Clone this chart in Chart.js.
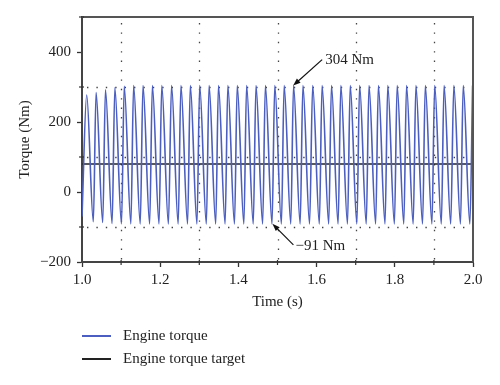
<!DOCTYPE html>
<html>
<head>
<meta charset="utf-8">
<script src="https://cdn.jsdelivr.net/npm/chart.js@4.4.0/dist/chart.umd.min.js"></script>
<style>
    html, body { margin: 0; padding: 0; background: #fff; }
    #wrap { position: relative; width: 500px; height: 385px; }
    #legend { position: absolute; left: 82px; top: 324px; font: 15px "Liberation Serif", serif; color: #222; }
    .row { display: flex; align-items: center; height: 23px; }
    .swatch { width: 29px; height: 2px; margin-right: 12px; }
</style>
</head>
<body>
<div id="wrap">
    <canvas id="chart" width="500" height="385"></canvas>
    <div id="legend"></div>
</div>
<script>
// Peaks and troughs of the engine torque trace (s, Nm)
const startTime = 1.000;
const startTorque = -70;

const peakTimes = [1.012, 1.036, 1.060, 1.084, 1.108, 1.132, 1.156, 1.180, 1.204, 1.229,
    1.253, 1.277, 1.301, 1.325, 1.349, 1.373, 1.397, 1.421, 1.445, 1.469,
    1.493, 1.517, 1.541, 1.565, 1.590, 1.614, 1.638, 1.662, 1.686, 1.710,
    1.734, 1.758, 1.782, 1.806, 1.830, 1.854, 1.878, 1.902, 1.926, 1.951,
    1.975, 1.999];
const peakTorques = [277, 284, 292, 298, 302, 304, 304, 304, 304, 304,
    304, 304, 304, 304, 304, 304, 304, 304, 304, 304,
    304, 304, 304, 304, 304, 304, 304, 304, 304, 304,
    304, 304, 304, 304, 304, 304, 304, 304, 304, 304,
    304, 304];

const troughTimes = [1.029, 1.053, 1.077, 1.101, 1.125, 1.149, 1.173, 1.197, 1.221, 1.246,
    1.270, 1.294, 1.318, 1.342, 1.366, 1.390, 1.414, 1.438, 1.462, 1.486,
    1.510, 1.534, 1.558, 1.582, 1.607, 1.631, 1.655, 1.679, 1.703, 1.727,
    1.751, 1.775, 1.799, 1.823, 1.847, 1.871, 1.895, 1.919, 1.943, 1.968,
    1.992];
const troughTorques = [-85, -87, -90, -91, -91, -91, -91, -91, -91, -91,
    -91, -91, -91, -91, -91, -91, -91, -91, -91, -91,
    -91, -91, -91, -91, -91, -91, -91, -91, -91, -91,
    -91, -91, -91, -91, -91, -91, -91, -91, -91, -91,
    -91];

// Engine torque target
const targetTimes = [1.0, 2.0];
const targetTorques = [80, 80];

// Axis ticks and dotted reference lines
const xTicks = [1.0, 1.2, 1.4, 1.6, 1.8, 2.0];
const yTicks = [-200, 0, 200, 400];
const refTimes = [1.1, 1.3, 1.5, 1.7, 1.9];
const refTorques = [300, 100, -100];

// Build the trace: start, then peak/trough alternating
const torquePoints = [{ x: startTime, y: startTorque }];
peakTimes.forEach(function (t, i) {
    torquePoints.push({ x: t, y: peakTorques[i] });
    if (i < troughTimes.length) {
        torquePoints.push({ x: troughTimes[i], y: troughTorques[i] });
    }
});
const targetPoints = targetTimes.map(function (t, i) {
    return { x: t, y: targetTorques[i] };
});

const FONT = '"Liberation Serif", "Times New Roman", serif';
const INK = '#222';

// Dotted reference lines, box frame, minor ticks and arrow notes
const extrasPlugin = {
    id: 'extras',
    beforeDatasetsDraw: function (chart) {
        const ctx = chart.ctx;
        const a = chart.chartArea;
        const xs = chart.scales.x, ys = chart.scales.y;
        ctx.save();
        ctx.strokeStyle = '#444';
        ctx.lineWidth = 1.3;
        ctx.setLineDash([1.4, 8]);
        refTimes.forEach(function (t) {
            const px = Math.round(xs.getPixelForValue(t)) + 0.5;
            ctx.beginPath();
            ctx.moveTo(px, a.top + 6);
            ctx.lineTo(px, a.bottom);
            ctx.stroke();
        });
        refTorques.forEach(function (v) {
            const py = Math.round(ys.getPixelForValue(v)) + 0.5;
            ctx.beginPath();
            ctx.moveTo(a.left + 5, py);
            ctx.lineTo(a.right, py);
            ctx.stroke();
        });
        ctx.restore();
    },
    afterDatasetsDraw: function (chart) {
        const ctx = chart.ctx;
        const a = chart.chartArea;
        const xs = chart.scales.x, ys = chart.scales.y;
        ctx.save();
        // top and right frame
        ctx.strokeStyle = '#555';
        ctx.lineWidth = 2;
        ctx.beginPath();
        ctx.moveTo(a.left, a.top);
        ctx.lineTo(a.right, a.top);
        ctx.lineTo(a.right, a.bottom);
        ctx.stroke();

        // minor ticks halfway between major ones
        ctx.lineWidth = 1.2;
        ctx.strokeStyle = '#333';
        for (let i = 0; i < yTicks.length; i++) {
            const v = yTicks[i] + 100;
            const py = ys.getPixelForValue(v);
            if (py < a.top) continue;
            ctx.beginPath();
            ctx.moveTo(a.left - 3, py);
            ctx.lineTo(a.left + 2, py);
            ctx.stroke();
        }
        for (let i = 0; i < xTicks.length - 1; i++) {
            const px = xs.getPixelForValue(xTicks[i] + 0.1);
            ctx.beginPath();
            ctx.moveTo(px, a.bottom + 3);
            ctx.lineTo(px, a.bottom - 2);
            ctx.stroke();
        }

        // arrow notes
        function note(tipX, tipY, fromX, fromY, text, tx, ty) {
            const x1 = fromX, y1 = fromY, x2 = tipX, y2 = tipY;
            const ang = Math.atan2(y2 - y1, x2 - x1);
            ctx.strokeStyle = '#111';
            ctx.fillStyle = '#111';
            ctx.lineWidth = 1.2;
            ctx.beginPath();
            ctx.moveTo(x1, y1);
            ctx.lineTo(x2 - 5 * Math.cos(ang), y2 - 5 * Math.sin(ang));
            ctx.stroke();
            ctx.beginPath();
            ctx.moveTo(x2, y2);
            ctx.lineTo(x2 - 8 * Math.cos(ang - 0.35), y2 - 8 * Math.sin(ang - 0.35));
            ctx.lineTo(x2 - 8 * Math.cos(ang + 0.35), y2 - 8 * Math.sin(ang + 0.35));
            ctx.closePath();
            ctx.fill();
            ctx.fillStyle = INK;
            ctx.font = '15px ' + FONT;
            ctx.textBaseline = 'middle';
            ctx.textAlign = 'left';
            ctx.fillText(text, tx, ty);
        }
        const p1 = { x: xs.getPixelForValue(1.540), y: ys.getPixelForValue(304) };
        note(p1.x, p1.y, p1.x + 29, p1.y - 26, '304 Nm', p1.x + 32, p1.y - 26);
        const p2 = { x: xs.getPixelForValue(1.487), y: ys.getPixelForValue(-91) };
        note(p2.x, p2.y, p2.x + 21, p2.y + 21, '\u221291 Nm', p2.x + 23, p2.y + 22);
        ctx.restore();
    }
};

const ctx = document.getElementById('chart').getContext('2d');
const chart = new Chart(ctx, {
    type: 'line',
    data: {
        datasets: [
            {
                label: 'Engine torque',
                data: torquePoints,
                borderColor: '#4c5fc0',
                borderWidth: 1.6,
                pointRadius: 0,
                cubicInterpolationMode: 'monotone',
                fill: false
            },
            {
                label: 'Engine torque target',
                data: targetPoints,
                borderColor: '#222',
                borderWidth: 1.6,
                pointRadius: 0,
                fill: false
            }
        ]
    },
    options: {
        responsive: false,
        animation: false,
        events: [],
        layout: { padding: { top: 17, right: 27, bottom: 73, left: 0 } },
        plugins: {
            legend: { display: false },
            tooltip: { enabled: false }
        },
        scales: {
            x: {
                type: 'linear',
                min: 1.0,
                max: 2.0,
                afterBuildTicks: function (scale) {
                    scale.ticks = xTicks.map(function (v) { return { value: v }; });
                },
                afterFit: function (scale) { scale.height = 50; },
                ticks: {
                    color: INK,
                    font: { family: FONT, size: 15 },
                    padding: 4,
                    maxRotation: 0,
                    callback: function (v) { return Number(v).toFixed(1); }
                },
                grid: { drawOnChartArea: false, tickLength: 5, tickColor: '#333', tickWidth: 1.3 },
                border: { color: '#444', width: 2 },
                title: {
                    display: true,
                    text: 'Time (s)',
                    color: INK,
                    font: { family: FONT, size: 15 },
                    padding: { top: 0, bottom: 1 }
                }
            },
            y: {
                min: -200,
                max: 500,
                afterBuildTicks: function (scale) {
                    scale.ticks = yTicks.map(function (v) { return { value: v }; });
                },
                afterFit: function (scale) { scale.width = 82; },
                ticks: {
                    color: INK,
                    font: { family: FONT, size: 15 },
                    padding: 6,
                    callback: function (v) { return v < 0 ? '\u2212' + Math.abs(v) : String(v); }
                },
                grid: { drawOnChartArea: false, tickLength: 5, tickColor: '#333', tickWidth: 1.3 },
                border: { color: '#444', width: 2 },
                title: {
                    display: true,
                    text: 'Torque (Nm)',
                    color: INK,
                    font: { family: FONT, size: 15 },
                    padding: { top: 16, bottom: 0 }
                }
            }
        }
    },
    plugins: [extrasPlugin]
});

// Legend below the chart, stacked
const legendEl = document.getElementById('legend');
chart.data.datasets.forEach(function (ds) {
    const row = document.createElement('div');
    row.className = 'row';
    const sw = document.createElement('span');
    sw.className = 'swatch';
    sw.style.background = ds.borderColor;
    const label = document.createElement('span');
    label.textContent = ds.label;
    row.appendChild(sw);
    row.appendChild(label);
    legendEl.appendChild(row);
});
</script>
</body>
</html>
